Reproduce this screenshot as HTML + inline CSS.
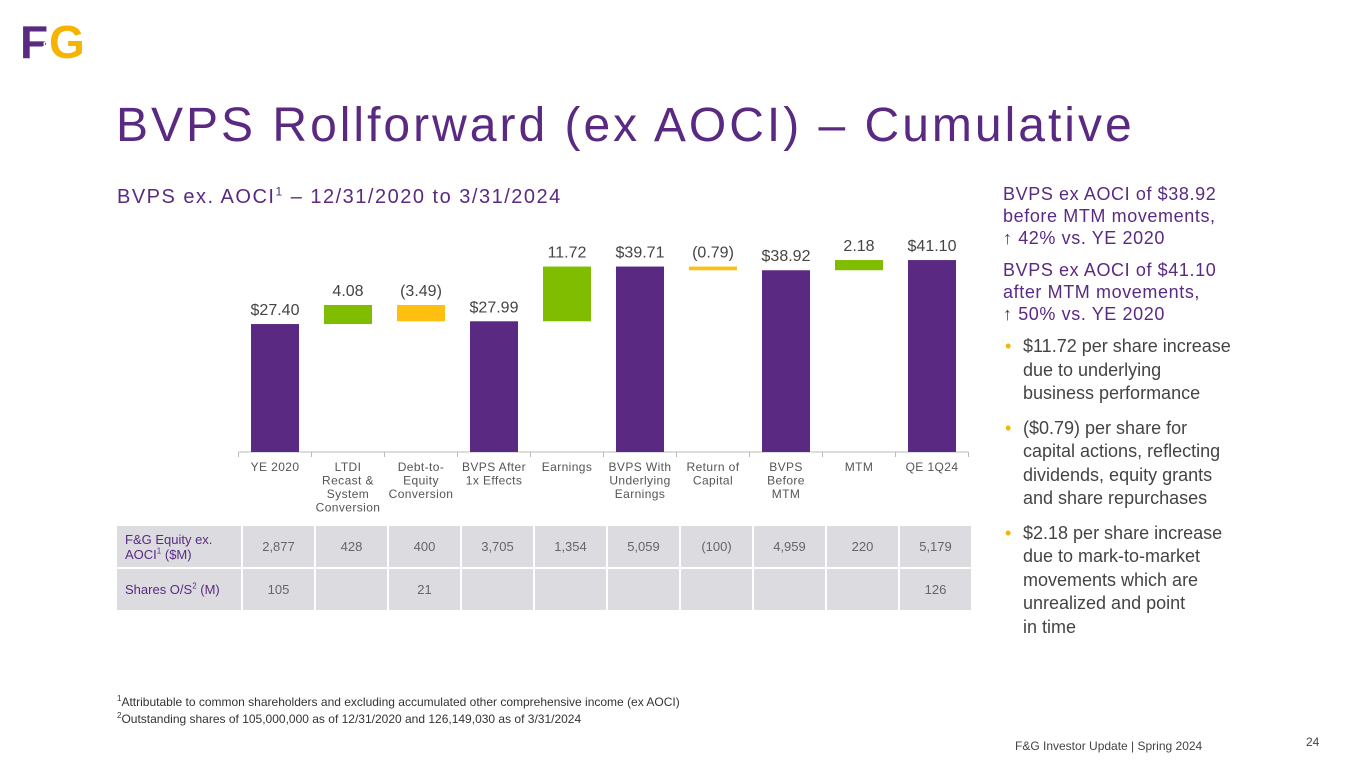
<!DOCTYPE html>
<html><head><meta charset="utf-8"><style>
body{margin:0;width:1365px;height:768px;background:#fff;font-family:"Liberation Sans",sans-serif;position:relative;overflow:hidden}
.abs{position:absolute}
.purple{color:#5a2a82}
sup{line-height:0}
.side p{margin:0;letter-spacing:0.6px}
.side ul{margin:0;padding:0;list-style:none}
.side li{position:relative;padding-left:20px;font-size:18px;line-height:23.5px;color:#444;margin-bottom:11px;white-space:nowrap}
.side li:before{content:"•";color:#f5b400;position:absolute;left:2px}
table{border-collapse:separate;border-spacing:2px}
td{background:#dcdce0;font-size:13px;color:#666;text-align:center;height:41px;padding:0}
td.h{color:#5a2a82;text-align:left;padding-left:8px;width:116px}
</style></head><body>
<div class="abs" style="left:20px;top:18px;width:70px;height:48px">
<div style="position:absolute;left:0;top:0;font:bold 46px 'Liberation Sans',sans-serif;color:#5a2a82;line-height:48px">F</div>
<div style="position:absolute;left:29px;top:0;font:bold 46px 'Liberation Sans',sans-serif;color:#f5b400;line-height:48px">G</div>
<div style="position:absolute;left:21px;top:20px;font:bold 14px 'Liberation Sans',sans-serif;color:#fff">&amp;</div>
</div>
<div class="abs purple" style="left:116px;top:98px;font-size:48px;letter-spacing:3px;white-space:nowrap">BVPS Rollforward (ex AOCI) – Cumulative</div>
<div class="abs purple" style="left:117px;top:186px;font-size:20px;letter-spacing:1.5px;white-space:nowrap">BVPS ex. AOCI<sup style="font-size:12px">1</sup> – 12/31/2020 to 3/31/2024</div>
<svg class="abs" style="left:0;top:0" width="1000" height="520" id="chart"></svg>
<div class="abs" style="left:115px;top:524px">
<table><tr><td class="h">F&amp;G Equity ex. AOCI<sup style="font-size:8px">1</sup> ($M)</td><td style="width:71px">2,877</td><td style="width:71px">428</td><td style="width:71px">400</td><td style="width:71px">3,705</td><td style="width:71px">1,354</td><td style="width:71px">5,059</td><td style="width:71px">(100)</td><td style="width:71px">4,959</td><td style="width:71px">220</td><td style="width:71px">5,179</td></tr>
<tr><td class="h">Shares O/S<sup style="font-size:8px">2</sup> (M)</td><td>105</td><td></td><td>21</td><td></td><td></td><td></td><td></td><td></td><td></td><td>126</td></tr></table></div>
<div class="abs side" style="left:1003px;top:183px;width:265px">
<p class="purple" style="font-size:18px;line-height:22px;margin-bottom:10px">BVPS ex AOCI of $38.92<br>before MTM movements,<br>↑ 42% vs. YE 2020</p>
<p class="purple" style="font-size:18px;line-height:22px;margin-bottom:10px">BVPS ex AOCI of $41.10<br>after MTM movements,<br>↑ 50% vs. YE 2020</p>
<ul><li>$11.72 per share increase<br>due to underlying<br>business performance</li>
<li>($0.79) per share for<br>capital actions, reflecting<br>dividends, equity grants<br>and share repurchases</li>
<li>$2.18 per share increase<br>due to mark-to-market<br>movements which are<br>unrealized and point<br>in&nbsp;time</li></ul></div>
<div class="abs" style="left:117px;top:694px;font-size:12px;color:#333;line-height:17px">
<div><sup style="font-size:8px">1</sup>Attributable to common shareholders and excluding accumulated other comprehensive income (ex AOCI)</div>
<div><sup style="font-size:8px">2</sup>Outstanding shares of 105,000,000 as of 12/31/2020 and 126,149,030 as of 3/31/2024</div></div>
<div class="abs" style="left:1015px;top:739px;font-size:12px;color:#444">F&amp;G Investor Update | Spring 2024</div>
<div class="abs" style="left:1306px;top:735px;font-size:12px;color:#444">24</div>
<script>
const categories=["YE 2020","LTDI|Recast &|System|Conversion","Debt-to-|Equity|Conversion","BVPS After|1x Effects","Earnings","BVPS With|Underlying|Earnings","Return of|Capital","BVPS|Before|MTM","MTM","QE 1Q24"];
const values=[27.40,4.08,-3.49,27.99,11.72,39.71,-0.79,38.92,2.18,41.10];
const types=["total","delta","delta","total","delta","total","delta","total","delta","total"];
const valueLabels=["$27.40","4.08","(3.49)","$27.99","11.72","$39.71","(0.79)","$38.92","2.18","$41.10"];
const svg=document.getElementById('chart');const NS='http://www.w3.org/2000/svg';
const base=452,scale=4.67,x0=275,step=73,bw=48;
const y=v=>base-v*scale;const xc=i=>x0+i*step;
function mk(t,a){const e=document.createElementNS(NS,t);for(const k in a)e.setAttribute(k,a[k]);svg.appendChild(e);return e;}
const axis=mk('line',{x1:xc(0)-step/2,x2:xc(9)+step/2,y1:base,y2:base,stroke:'#bbb'});


let run=0;
values.forEach((v,i)=>{
 let lo,hi,col;
 if(types[i]=="total"){lo=0;hi=v;run=v;col='#5a2a82';}
 else{const s=run;run+=v;lo=Math.min(s,run);hi=Math.max(s,run);col=v>=0?'#80bc00':'#fdc010';}
 const r=mk('rect',{x:xc(i)-bw/2,y:y(hi),width:bw,height:Math.max(2,(hi-lo)*scale),fill:col});
 
 
 const t=mk('text',{x:xc(i),y:y(hi)-9,'text-anchor':'middle','font-size':'16','fill':'#444','font-family':'Liberation Sans'});
 t.textContent=valueLabels[i];
 
 
 mk('line',{x1:xc(i)-step/2,x2:xc(i)-step/2,y1:base,y2:base+5,stroke:'#bbb'});
 categories[i].split('|').forEach((ln,j)=>{
  const c=mk('text',{x:xc(i),y:471+j*13.5,'text-anchor':'middle','font-size':'12','fill':'#555','font-family':'Liberation Sans','letter-spacing':'0.4'});
  c.textContent=ln;
  
  
 });
});
mk('line',{x1:xc(9)+step/2,x2:xc(9)+step/2,y1:base,y2:base+5,stroke:'#bbb'});
</script>
</body></html>
